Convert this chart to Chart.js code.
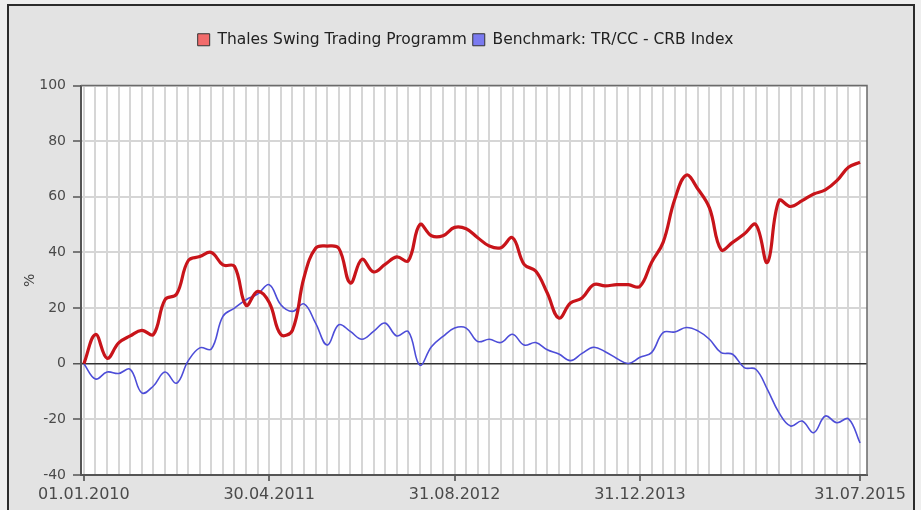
<!DOCTYPE html>
<html>
<head>
<meta charset="utf-8">
<script src="https://cdn.jsdelivr.net/npm/chart.js@4.4.1/dist/chart.umd.min.js"></script>
<style>
  body { margin: 0; background: #eeeeee; }
  #frame {
    position: absolute; left: 7px; top: 4px; width: 904px; height: 520px;
    border: 2px solid #2b2b2b; background: #e3e3e3;
  }
  #perfChart { position: absolute; left: 0; top: 0; }
</style>
</head>
<body>
<div id="frame"></div>
<canvas id="perfChart" width="921" height="510"></canvas>
<script>
/* Monthly points, 01.01.2010 .. 31.07.2015 (68 months) */
let thales = [0, 10.5, 2, 7.5, 10, 12, 10.5, 23, 25, 37, 38.5, 40, 35.5, 35, 21, 26, 22, 10.5, 12, 31,
  41.5, 42.3, 41.5, 29, 37.5, 33, 35.7, 38.4, 37, 50, 46, 46, 49, 48.5, 45.3, 42.3, 41.7, 45.3, 35.7, 33.3,
  25.4, 16.4, 21.8, 23.6, 28.4, 28, 28.4, 28.4, 27.8, 36.4, 43.6, 59, 67.8, 62.8, 56, 41, 43.6, 46.6, 50, 36.4,
  58.6, 56.5, 58.6, 61, 62.5, 65.8, 70.6, 72.4];
let benchmark = [0, -5.5, -3, -3.5, -2, -10.5, -8, -3, -7, 1, 5.7, 5.3, 17, 20, 23, 25, 28.4, 21.2, 18.8, 21.5,
  14.6, 6.7, 14, 11.6, 8.8, 11.6, 14.6, 10, 11.6, -0.5, 6.1, 9.8, 12.8, 12.8, 8, 8.8, 7.6, 10.6, 6.7, 7.6,
  5, 3.5, 1.1, 3.7, 5.9, 4.3, 1.9, 0.1, 2.3, 4, 11.2, 11.4, 13, 11.8, 8.8, 4, 3.4, -1.4, -2, -9.2,
  -17.6, -22.4, -20.6, -24.8, -18.8, -21.2, -19.8, -28.5];
let months = thales.map((v, i) => i);
let tickIndex = [0, 16, 32, 48, 67];
let tickLabels = ['01.01.2010', '30.04.2011', '31.08.2012', '31.12.2013', '31.07.2015'];
let seriesNames = ['Thales Swing Trading Programm', 'Benchmark: TR/CC - CRB Index'];

const font = "'DejaVu Sans', Verdana, sans-serif";

// white plot area plus top/right border
const plotFrame = {
  id: 'plotFrame',
  beforeDraw(chart) {
    const { ctx, chartArea: a } = chart;
    ctx.save();
    ctx.fillStyle = '#ffffff';
    ctx.fillRect(a.left, a.top, a.width, a.height);
    ctx.restore();
  },
  beforeDatasetsDraw(chart) {
    const { ctx, chartArea: a } = chart;
    ctx.save();
    ctx.strokeStyle = '#6a6a6a';
    ctx.lineWidth = 1.5;
    ctx.beginPath();
    ctx.moveTo(a.left, a.top);
    ctx.lineTo(a.right, a.top);
    ctx.lineTo(a.right, a.bottom);
    ctx.stroke();
    ctx.restore();
  }
};

// extra room below the legend
const legendSpace = {
  id: 'legendSpace',
  beforeInit(chart) {
    const fit = chart.legend.fit;
    chart.legend.fit = function () {
      fit.call(this);
      this.height += 28;
    };
  }
};

let ctx = document.getElementById('perfChart').getContext('2d');
let perfChart = new Chart(ctx, {
  type: 'line',
  data: {
    labels: months,
    datasets: [
      {
        label: seriesNames[0],
        data: thales,
        borderColor: '#c8141a',
        backgroundColor: '#f26b6b',
        borderWidth: 3.2,
        pointRadius: 0,
        tension: 0.4,
        fill: false,
      },
      {
        label: seriesNames[1],
        data: benchmark,
        borderColor: '#4d4dd8',
        backgroundColor: '#7a7af0',
        borderWidth: 1.6,
        pointRadius: 0,
        tension: 0.4,
        fill: false,
      },
    ],
  },
  options: {
    responsive: false,
    animation: false,
    devicePixelRatio: 1,
    layout: { padding: { left: 10, right: 0, top: 26, bottom: 0 } },
    plugins: {
      tooltip: { enabled: false },
      legend: {
        position: 'top',
        labels: {
          boxWidth: 12,
          boxHeight: 12,
          padding: 6,
          color: '#222',
          font: { family: font, size: 15.5 },
          generateLabels: function (chart) {
            let items = Chart.defaults.plugins.legend.labels.generateLabels(chart);
            items.forEach(function (it) {
              it.strokeStyle = '#333';
              it.lineWidth = 1;
            });
            return items;
          },
        },
      },
    },
    scales: {
      x: {
        type: 'linear',
        min: -0.25,
        max: 67.6,
        afterBuildTicks: function (scale) {
          scale.ticks = months.map((m) => ({ value: m }));
        },
        afterFit: function (scale) {
          scale.height = 35;
        },
        ticks: {
          autoSkip: false,
          maxRotation: 0,
          padding: 4,
          color: '#4a4a4a',
          font: { family: font, size: 16 },
          callback: function (value) {
            let k = tickIndex.indexOf(value);
            return k >= 0 ? tickLabels[k] : '';
          },
        },
        grid: {
          color: '#d6d6d6',
          lineWidth: 2,
          tickLength: 6,
          tickWidth: 1.5,
          tickColor: function (c) {
            return c.tick && tickIndex.includes(c.tick.value) ? '#444' : 'rgba(0,0,0,0)';
          },
        },
        border: { display: true, color: '#555', width: 2 },
      },
      y: {
        min: -40,
        max: 100,
        afterFit: function (scale) {
          scale.width = 71;
        },
        ticks: {
          stepSize: 20,
          padding: 7,
          color: '#4a4a4a',
          font: { family: font, size: 14 },
        },
        title: {
          display: true,
          text: '%',
          color: '#444',
          padding: { top: 12, bottom: 0 },
          font: { family: font, size: 14 },
        },
        grid: {
          color: function (c) {
            return c.tick && c.tick.value === 0 ? '#333' : '#d6d6d6';
          },
          lineWidth: function (c) {
            return c.tick && c.tick.value === 0 ? 1.5 : 2;
          },
          tickColor: '#555',
          tickLength: 8,
          tickWidth: 1.5,
        },
        border: { display: true, color: '#555', width: 2 },
      },
      yPad: {
        position: 'right',
        display: true,
        afterFit: function (scale) {
          scale.width = 54;
        },
        ticks: { display: false },
        grid: { display: false },
        border: { display: false },
      },
    },
  },
  plugins: [plotFrame, legendSpace],
});
</script>
</body>
</html>
